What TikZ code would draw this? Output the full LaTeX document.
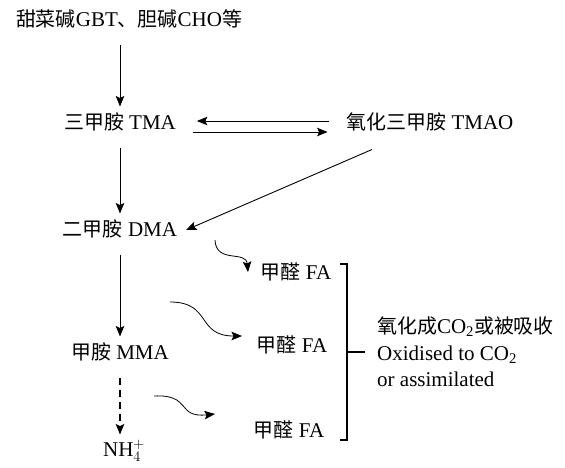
\documentclass[tikz,border=0pt]{standalone}
\usepackage{fontspec}
\setmainfont{Liberation Serif}
\newfontfamily\cjk[Scale=0.95]{Noto Sans CJK SC}
\usetikzlibrary{arrows.meta}

\begin{document}
\begin{tikzpicture}[x=1pt, y=1pt,
        font=\fontsize{21}{26.5}\selectfont,
        lbl/.style={inner sep=4pt, outer sep=5pt, text height=14pt, text depth=5pt},
        arr/.style={-{Stealth[length=10.5pt, width=8.5pt, inset=2pt]}, line width=0.9pt},
        down/.style={arr, shorten <=4.5pt},
        wavy/.style={arr, line width=0.8pt}]
        \useasboundingbox (0,0) rectangle (565,-467);

        % main chain
        \node[lbl] (src) at (129,-22) {{\cjk 甜菜碱}GBT{\cjk 、胆碱}CHO{\cjk 等}};
        \node[lbl] (tma) at (120,-125) {{\cjk 三甲胺} TMA};
        \node[lbl] (tmao) at (430,-125) {{\cjk 氧化三甲胺} TMAO};
        \node[lbl] (dma) at (120,-232) {{\cjk 二甲胺} DMA};
        \node[lbl] (mma) at (120,-355) {{\cjk 甲胺} MMA};
        \node[lbl, text height=12pt, text depth=3pt] (nh4) at (124,-452) {NH$^{+}_{4}$};

        % formaldehyde side products
        \node[lbl] (fa1) at (296,-275) {{\cjk 甲醛} FA};
        \node[lbl] (fa2) at (292,-348) {{\cjk 甲醛} FA};
        \node[lbl] (fa3) at (289,-433) {{\cjk 甲醛} FA};
        \node[anchor=west, inner sep=0pt, align=left] (fate) at (377,-352)
            {{\cjk 氧化成}CO\textsubscript{2}{\cjk 或被吸收}\\Oxidised to CO\textsubscript{2}\\or assimilated};

        \draw[down] (src.south -| tma.north) -- (tma.north);
        \draw[down] (tma) -- (dma);
        \draw[down] (dma) -- (mma);
        \draw[down, dashed, line width=1.6pt, dash pattern=on 7pt off 5pt, shorten >=1pt] (mma) -- (mma |- nh4.north);

        % TMA <-> TMAO
        \draw[arr, shorten <=9pt, shorten >=12pt] ([yshift=4pt]tmao.west) -- ([yshift=4pt]tma.east);
        \draw[arr, shorten <=8pt, shorten >=10pt] ([yshift=-7pt]tma.east) -- ([yshift=-7pt]tmao.west);
        \draw[arr] ([xshift=-58pt, yshift=-6pt]tmao.south) -- ([yshift=2pt]dma.east);

        % wavy arrows to FA
        \coordinate (w1a) at (215,-240);
        \coordinate (w1b) at (248,-272);
        \coordinate (w2a) at (170,-302);
        \coordinate (w2b) at (242,-336);
        \coordinate (w3a) at (154,-396);
        \coordinate (w3b) at (215,-414);
        \draw[wavy] (w1a) .. controls (216,-264) and (246,-250) .. (w1b);
        \draw[wavy] (w2a) .. controls (212,-302) and (196,-336) .. (w2b);
        \draw[wavy] (w3a) .. controls (192,-394) and (176,-418) .. (w3b);

        % bracket
        \coordinate (brtop) at (347,-264);
        \coordinate (brbot) at (347,-440);
        \draw[line width=1.8pt] ([xshift=-7pt]brtop) -- (brtop) -- (brbot) -- ([xshift=-7pt]brbot);
        \draw[line width=1.8pt, shorten >=12pt] (brtop |- fate.west) -- (fate.west);
      \end{tikzpicture}
\end{document}
